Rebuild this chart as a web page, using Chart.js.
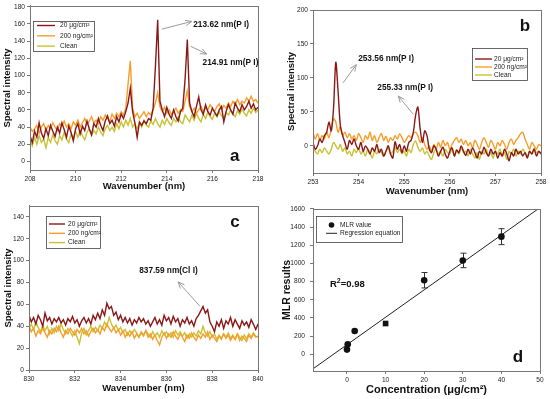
<!DOCTYPE html>
<html><head><meta charset="utf-8">
<script src="https://cdn.jsdelivr.net/npm/chart.js@4/dist/chart.umd.min.js"></script>
<style>
html,body{margin:0;padding:0;background:#fff;width:550px;height:399px;overflow:hidden}
canvas{position:absolute}
</style></head>
<body>
<canvas id="ca" width="275" height="200" style="left:0;top:0"></canvas>
<canvas id="cb" width="275" height="200" style="left:275px;top:0"></canvas>
<canvas id="cc" width="275" height="199" style="left:0;top:200px"></canvas>
<canvas id="cd" width="275" height="199" style="left:275px;top:200px"></canvas>
<script>
// ---------- DATA ----------
const seriesNames = ['20 μg/cm²', '200 ng/cm²', 'Clean'];

// Panel a
const aX = [208,208.1,208.2,208.3,208.4,208.5,208.6,208.7,208.8,208.9,
209,209.1,209.2,209.3,209.4,209.5,209.6,209.7,209.8,209.9,
210,210.1,210.2,210.3,210.4,210.5,210.6,210.7,210.8,210.9,
211,211.1,211.2,211.3,211.4,211.5,211.6,211.7,211.8,211.9,
212,212.1,212.2,212.3,212.4,212.5,212.6,212.7,212.8,212.9,
213,213.1,213.2,213.3,213.4,213.5,213.6,213.7,213.8,213.9,
214,214.1,214.2,214.3,214.4,214.5,214.6,214.7,214.8,214.9,
215,215.1,215.2,215.3,215.4,215.5,215.6,215.7,215.8,215.9,
216,216.1,216.2,216.3,216.4,216.5,216.6,216.7,216.8,216.9,
217,217.1,217.2,217.3,217.4,217.5,217.6,217.7,217.8,217.9,218];
const aDark = [30,22,35,28,45,33,27,38,30,42, 35,29,40,33,45,37,28,41,34,24,
38,44,32,41,36,47,38,31,44,40, 50,42,36,47,53,44,48,41,52,46,
55,50,58,68,85,58,45,28,46,42, 47,44,50,48,62,110,165,70,60,52,
63,55,50,60,52,47,58,62,95,142, 68,58,52,64,75,60,55,66,58,54,
62,57,53,60,64,46,58,66,60,55, 68,62,58,66,60,64,70,62,67,60, 63];
const aOrange = [40,35,38,42,33,40,44,36,42,38, 45,40,36,44,41,47,40,44,38,46,
42,48,40,45,50,43,47,52,45,48, 44,52,48,54,50,46,55,50,56,52,
58,54,62,90,117,62,52,56,50,54, 58,52,57,54,60,68,80,64,58,63,
56,60,55,58,62,56,60,58,70,82, 64,58,62,56,60,64,58,62,60,66,
62,58,64,67,60,65,62,68,64,70, 66,72,66,70,68,74,70,76,70,72, 68];
const aClean = [25,18,28,20,30,22,26,16,28,22, 31,24,20,30,25,34,26,22,32,27,
35,28,36,30,25,34,38,30,36,32, 40,34,30,38,42,36,40,35,44,38,
46,40,48,42,50,40,44,38,45,40, 48,42,40,47,43,50,44,40,48,43,
50,45,42,50,46,52,46,44,54,50, 46,54,48,56,50,46,55,50,57,52,
49,56,52,58,53,50,57,54,60,55, 52,59,55,61,56,53,60,56,62,57, 60];
const aXTicks = [208,210,212,214,216,218];
const aYTicks = [0,20,40,60,80,100,120,140,160,180];

// Panel b
const bX = [253,253.05,253.1,253.15,253.2,253.25,253.3,253.35,253.4,253.45,
253.5,253.55,253.6,253.65,253.7,253.75,253.8,253.85,253.9,253.95,
254,254.05,254.1,254.15,254.2,254.25,254.3,254.35,254.4,254.45,
254.5,254.55,254.6,254.65,254.7,254.75,254.8,254.85,254.9,254.95,
255,255.05,255.1,255.15,255.2,255.25,255.3,255.35,255.4,255.45,
255.5,255.55,255.6,255.65,255.7,255.75,255.8,255.85,255.9,255.95,
256,256.05,256.1,256.15,256.2,256.25,256.3,256.35,256.4,256.45,
256.5,256.55,256.6,256.65,256.7,256.75,256.8,256.85,256.9,256.95,
257,257.05,257.1,257.15,257.2,257.25,257.3,257.35,257.4,257.45,
257.5,257.55,257.6,257.65,257.7,257.75,257.8,257.85,257.9,257.95,258];
const bDark = [5,-5,0,10,5,15,20,35,22,55, 123,80,30,15,5,-5,8,2,10,0,
-5,5,-8,0,-5,-12,-3,-8,2,-10, -5,-15,-8,0,-12,-18,6,-5,2,-10,
0,-8,5,8,20,45,57,25,5,22, 15,-5,-10,0,-5,-15,-8,-2,-12,-18,
-8,-3,-15,-6,-10,0,-8,-14,-5,-12, -3,-10,-18,-8,-12,-2,-10,-15,-5,-12,
-8,-18,-10,-15,-5,-12,-22,-10,-15,-5, -12,-8,-15,-10,-18,-8,-12,-5,-15,-8, -12];
const bOrange = [20,10,18,8,15,10,20,12,25,40, 35,20,28,15,20,12,18,10,15,8,
18,12,5,15,10,20,8,15,5,12, 18,8,14,5,12,8,15,10,18,12,
5,10,15,12,18,20,15,5,12,2, -5,0,-8,2,-5,5,-2,8,0,5,
-5,2,8,12,5,10,2,8,0,5, -3,8,2,-5,5,12,5,-2,8,2,
-5,5,0,8,2,-5,5,10,2,8, 12,18,20,10,2,-5,5,0,-5,2, 0];
const bClean = [-5,-8,-12,-5,-10,-3,-8,-12,-5,5, 0,-5,2,-8,-3,-12,-8,-15,-5,-10,
-3,-12,-8,-15,-5,-10,-18,-8,-12,-5, -10,-15,-8,-3,-12,-8,-2,-10,-5,-12,
-8,-15,-5,-10,2,7,-2,-8,-3,-12, -8,-15,-20,-10,-5,-12,-8,-15,-5,-10,
-12,-5,-15,-8,-12,-3,-10,-8,-15,-5, -12,-18,-10,-20,-8,-12,-5,-15,-10,-18,
-8,-12,-5,-15,-10,-20,-8,-12,-5,-15, -8,-12,-5,-10,-15,-8,-12,-3,-10,-8, -12];
const bXTicks = [253,254,255,256,257,258];
const bYTicks = [0,50,100,150,200];

// Panel c
const cX = [830,830.1,830.2,830.3,830.4,830.5,830.6,830.7,830.8,830.9,
831,831.1,831.2,831.3,831.4,831.5,831.6,831.7,831.8,831.9,
832,832.1,832.2,832.3,832.4,832.5,832.6,832.7,832.8,832.9,
833,833.1,833.2,833.3,833.4,833.5,833.6,833.7,833.8,833.9,
834,834.1,834.2,834.3,834.4,834.5,834.6,834.7,834.8,834.9,
835,835.1,835.2,835.3,835.4,835.5,835.6,835.7,835.8,835.9,
836,836.1,836.2,836.3,836.4,836.5,836.6,836.7,836.8,836.9,
837,837.1,837.2,837.3,837.4,837.5,837.6,837.7,837.8,837.9,
838,838.1,838.2,838.3,838.4,838.5,838.6,838.7,838.8,838.9,
839,839.1,839.2,839.3,839.4,839.5,839.6,839.7,839.8,839.9,840];
const cDark = [50,44,48,42,50,46,40,52,45,48, 42,47,44,48,43,46,41,47,44,49,
43,46,40,45,48,43,47,42,50,46, 52,47,55,50,61,56,58,50,53,46,
50,44,48,43,47,41,46,43,48,44, 47,42,45,40,44,48,42,46,41,50,
45,48,42,49,44,47,40,46,43,48, 42,45,40,47,50,54,58,52,55,44,
40,35,44,40,46,38,45,42,48,40, 46,42,38,45,41,44,39,46,42,37, 42];
const cOrange = [40,35,38,31,36,33,38,34,30,36, 33,38,35,40,34,30,36,33,38,35,
32,37,34,38,33,36,31,35,38,34, 37,33,39,36,42,38,35,39,34,37,
32,36,30,34,31,35,29,33,30,34, 31,36,30,33,28,32,27,23,30,34,
29,33,30,35,31,28,33,30,26,32, 29,34,30,27,32,29,33,30,35,28,
32,29,26,31,28,33,29,32,27,31, 28,33,27,31,29,26,32,29,33,30, 31];
const cClean = [38,42,37,44,39,35,41,36,40,33, 38,34,40,36,42,37,33,38,35,31,
36,30,24,34,38,32,36,40,35,39, 36,41,38,44,40,48,42,38,41,36,
39,34,37,32,36,33,37,34,30,35, 32,36,33,30,35,31,34,30,36,32,
35,31,34,30,36,32,35,31,34,29, 33,30,34,31,36,33,40,34,31,35,
30,33,28,32,29,33,30,34,29,32, 28,33,30,27,32,29,33,30,34,31, 30];
const cXTicks = [830,832,834,836,838,840];
const cYTicks = [0,20,40,60,80,100,120,140];

// Panel d
const dX = [0, 0.2, 2, 10, 20, 30, 40];
const dY = [51, 109, 255, 338, 815, 1033, 1295];
const dErr = [0, 0, 0, 0, 85, 80, 88];
const regX = [-8.8, 49.5];
const regY = [-161, 1600];
const dXTicks = [0,10,20,30,40,50];
const dYTicks = [0,200,400,600,800,1000,1200,1400,1600];

// ---------- STYLE / RENDER ----------
const F = "'Liberation Sans', Arial, Helvetica, sans-serif";
Chart.defaults.font.family = F;
const seriesColors = ['#8a1818', '#f59f2c', '#c9c236'];
const axisColor = '#777';

function pts(xs, ys) { return xs.map((x, i) => ({x: x, y: ys[i]})); }

function arrow(ctx, x0, y0, x1, y1) {
  const ang = Math.atan2(y1 - y0, x1 - x0);
  ctx.strokeStyle = '#9a9a9a'; ctx.lineWidth = 1;
  ctx.beginPath(); ctx.moveTo(x0, y0); ctx.lineTo(x1, y1); ctx.stroke();
  const L = 7, w = 0.4;
  ctx.beginPath();
  ctx.moveTo(x1 - L * Math.cos(ang - w), y1 - L * Math.sin(ang - w));
  ctx.lineTo(x1, y1);
  ctx.lineTo(x1 - L * Math.cos(ang + w), y1 - L * Math.sin(ang + w));
  ctx.stroke();
}

function deco(o) {
  return {
    id: 'deco',
    beforeDatasetsDraw(chart) {
      if (!o.err) return;
      const {ctx, scales: {x, y}} = chart;
      ctx.save(); ctx.strokeStyle = '#333'; ctx.lineWidth = 1;
      o.err.xs.forEach((xv, i) => {
        const e = o.err.es[i]; if (!e) return;
        const px = Math.round(x.getPixelForValue(xv)) + 0.5;
        const pTop = y.getPixelForValue(o.err.ys[i] + e), pBot = y.getPixelForValue(o.err.ys[i] - e);
        ctx.beginPath();
        ctx.moveTo(px, pTop); ctx.lineTo(px, pBot);
        ctx.moveTo(px - 3, pTop); ctx.lineTo(px + 3, pTop);
        ctx.moveTo(px - 3, pBot); ctx.lineTo(px + 3, pBot);
        ctx.stroke();
      });
      ctx.restore();
    },
    afterDatasetsDraw(chart) {
      const {ctx, chartArea: a, scales: {x, y}} = chart;
      ctx.save();
      ctx.strokeStyle = axisColor; ctx.lineWidth = 1;
      const l = Math.round(a.left), t = Math.round(a.top), r = Math.round(a.right), b = Math.round(a.bottom);
      ctx.strokeRect(l + 0.5, t + 0.5, r - l, b - t);
      (o.notes || []).forEach(n => {
        arrow(ctx, x.getPixelForValue(n.ax0), y.getPixelForValue(n.ay0), x.getPixelForValue(n.ax1), y.getPixelForValue(n.ay1));
        ctx.font = 'bold 8.3px ' + F; ctx.fillStyle = '#111';
        ctx.textAlign = 'left'; ctx.textBaseline = 'middle';
        ctx.fillText(n.text, x.getPixelForValue(n.tx), y.getPixelForValue(n.ty));
      });
      if (o.rsq) {
        let px = x.getPixelForValue(o.rsq.x), py = y.getPixelForValue(o.rsq.y);
        ctx.fillStyle = '#111'; ctx.textAlign = 'left'; ctx.textBaseline = 'middle';
        ctx.font = 'bold 9.5px ' + F; ctx.fillText('R', px, py); px += ctx.measureText('R').width;
        ctx.font = 'bold 7px ' + F; ctx.fillText('2', px, py - 3.5); px += ctx.measureText('2').width;
        ctx.font = 'bold 9.5px ' + F; ctx.fillText('=0.98', px, py);
      }
      if (o.letter) {
        ctx.font = 'bold 17px ' + F; ctx.fillStyle = '#111';
        ctx.textAlign = 'center'; ctx.textBaseline = 'alphabetic';
        ctx.fillText(o.letter.t, x.getPixelForValue(o.letter.x), y.getPixelForValue(o.letter.y));
      }
      const L = o.legend;
      if (L) {
        ctx.fillStyle = '#fff'; ctx.fillRect(L.x, L.y, L.w, L.h);
        ctx.strokeStyle = '#444'; ctx.lineWidth = 0.8;
        ctx.strokeRect(L.x + 0.5, L.y + 0.5, L.w, L.h);
        chart.data.datasets.forEach((ds, i) => {
          const ry = L.y0 + i * L.rowH;
          if (ds.showLine === false) {
            ctx.fillStyle = ds.backgroundColor;
            ctx.beginPath(); ctx.arc((L.lx0 + L.lx1) / 2, ry, 2.8, 0, Math.PI * 2); ctx.fill();
          } else {
            ctx.strokeStyle = ds.borderColor; ctx.lineWidth = ds.borderWidth || 1;
            ctx.beginPath(); ctx.moveTo(L.lx0, ry); ctx.lineTo(L.lx1, ry); ctx.stroke();
          }
          ctx.fillStyle = '#222'; ctx.font = '6.6px ' + F;
          ctx.textAlign = 'left'; ctx.textBaseline = 'middle';
          ctx.fillText(ds.label, L.tx, ry);
        });
      }
      ctx.restore();
    }
  };
}

function axis(o) {
  return {
    type: 'linear', min: o.min, max: o.max,
    afterBuildTicks: s => { s.ticks = o.ticks.map(v => ({value: v})); },
    afterFit: s => { if (o.w !== undefined) s.width = o.w; if (o.h !== undefined) s.height = o.h; },
    title: {display: true, text: o.title, color: '#111', font: {size: o.tsize, weight: 'bold', family: F}, padding: o.tpad},
    ticks: {font: {size: 6.6, family: F}, color: '#222', padding: o.tickPad, maxRotation: 0, autoSkip: false, callback: v => String(v)},
    grid: {display: true, drawOnChartArea: false, drawTicks: true, tickLength: 3, color: axisColor},
    border: {display: true, color: axisColor, width: 1}
  };
}

function spectrum(id, xs, sets, o) {
  return new Chart(document.getElementById(id), {
    type: 'line',
    data: {datasets: sets.map((ys, i) => ({
      label: seriesNames[i], data: pts(xs, ys), borderColor: seriesColors[i],
      borderWidth: 1.4, pointRadius: 0, tension: o.tension, fill: false
    }))},
    options: {
      responsive: false, animation: false, events: [],
      layout: {padding: o.pad},
      plugins: {legend: {display: false}, tooltip: {enabled: false}},
      scales: {x: axis(o.x), y: axis(o.y)}
    },
    plugins: [deco(o)]
  });
}

spectrum('ca', aX, [aDark, aOrange, aClean], {
  tension: 0, pad: {left: 0, top: 5, right: 17, bottom: 0},
  x: {min: 208, max: 218, ticks: aXTicks, h: 30, title: 'Wavenumber (nm)', tsize: 9.5, tpad: {top: 0, bottom: 8.3}, tickPad: 2},
  y: {min: -10, max: 181, ticks: aYTicks, w: 30, title: 'Spectral intensity', tsize: 9.5, tpad: {top: 1.3, bottom: 0}, tickPad: 2},
  notes: [
    {text: '213.62 nm(P I)', tx: 215.16, ty: 158.7, ax0: 213.78, ay0: 154, ax1: 215.1, ay1: 163},
    {text: '214.91 nm(P I)', tx: 215.57, ty: 115.4, ax0: 215.05, ay0: 134, ax1: 215.75, ay1: 125}
  ],
  letter: {t: 'a', x: 216.98, y: 0.7},
  legend: {x: 33, y: 21, w: 61, h: 30, y0: 25.5, rowH: 10.3, lx0: 37, lx1: 55, tx: 60}
});

spectrum('cb', bX, [bDark, bOrange, bClean], {
  tension: 0.3, pad: {left: 0, top: 10, right: 9, bottom: 0},
  x: {min: 253, max: 258, ticks: bXTicks, h: 27, title: 'Wavenumber (nm)', tsize: 9.5, tpad: {top: 0, bottom: 3.3}, tickPad: 2},
  y: {min: -40, max: 200, ticks: bYTicks, w: 38, title: 'Spectral intensity', tsize: 9.5, tpad: {top: 10.6, bottom: 0}, tickPad: 2},
  notes: [
    {text: '253.56 nm(P I)', tx: 253.99, ty: 127.9, ax0: 253.66, ay0: 92.8, ax1: 253.95, ay1: 119.5},
    {text: '255.33 nm(P I)', tx: 254.41, ty: 85.4, ax0: 255.2, ay0: 46.4, ax1: 254.87, ay1: 73.2}
  ],
  letter: {t: 'b', x: 257.65, y: 169.7},
  legend: {x: 197, y: 48, w: 55, h: 32, y0: 59, rowH: 8, lx0: 200, lx1: 217, tx: 219}
});

spectrum('cc', cX, [cDark, cOrange, cClean], {
  tension: 0, pad: {left: 0, top: 5, right: 17, bottom: 0},
  x: {min: 830, max: 840, ticks: cXTicks, h: 29, title: 'Wavenumber (nm)', tsize: 9.5, tpad: {top: 0, bottom: 5.3}, tickPad: 2},
  y: {min: 0, max: 150, ticks: cYTicks, w: 29, title: 'Spectral intensity', tsize: 9.5, tpad: {top: 3.1, bottom: 0}, tickPad: 2},
  notes: [
    {text: '837.59 nm(Cl I)', tx: 834.81, ty: 90.7, ax0: 837.46, ay0: 58.4, ax1: 836.51, ay1: 80.6}
  ],
  letter: {t: 'c', x: 838.99, y: 130.9},
  legend: {x: 46, y: 16, w: 54, h: 32, y0: 24, rowH: 9.3, lx0: 49, lx1: 65, tx: 68}
});

const dMarkerStyles = ['circle', 'circle', 'circle', 'rect', 'circle', 'circle', 'circle'];
const dMarkerSizes = [3.3, 3.3, 3.3, 4, 3.3, 3.3, 3.3];
const dOpts = {
  err: {xs: dX, ys: dY, es: dErr},
  rsq: {x: -4.4, y: 769},
  letter: {t: 'd', x: 44.3, y: -84},
  legend: {x: 41, y: 16, w: 86, h: 26, y0: 25, rowH: 8.3, lx0: 51, lx1: 62, tx: 65}
};
new Chart(document.getElementById('cd'), {
  type: 'scatter',
  data: {datasets: [
    {label: 'MLR value', data: pts(dX, dY), showLine: false, pointStyle: dMarkerStyles,
     pointRadius: dMarkerSizes, backgroundColor: '#111', borderColor: '#111', borderWidth: 0},
    {label: 'Regression equation', data: pts(regX, regY), showLine: true, pointRadius: 0,
     borderColor: '#222', borderWidth: 1, backgroundColor: '#222'}
  ]},
  options: {
    responsive: false, animation: false, events: [],
    layout: {padding: {left: 0, top: 7, right: 10, bottom: 0}},
    plugins: {legend: {display: false}, tooltip: {enabled: false}},
    scales: {
      x: axis({min: -8.8, max: 50, ticks: dXTicks, h: 28, title: 'Concentration (μg/cm²)', tsize: 11, tpad: {top: 0, bottom: 2.4}, tickPad: 2}),
      y: axis({min: -185, max: 1600, ticks: dYTicks, w: 38, title: 'MLR results', tsize: 10.5, tpad: {top: 5.4, bottom: 0}, tickPad: 5})
    }
  },
  plugins: [deco(dOpts)]
});
</script>
</body></html>
